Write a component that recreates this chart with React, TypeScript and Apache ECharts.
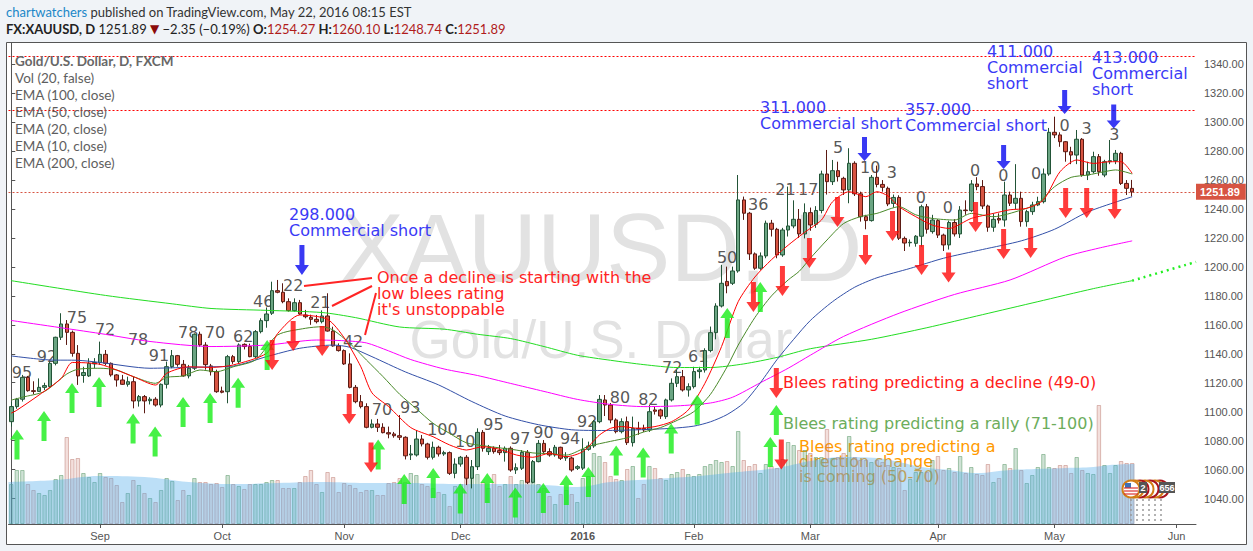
import React, { useEffect, useRef } from 'react';
import * as echarts from 'echarts';

// ---------- categories (trading days, FXCM daily bars) ----------
const FIRST_DAY = [2015, 7, 10]; // 2015-08-10 (month is 0-based)
const HOLIDAYS = ['2015-12-25', '2016-01-01'];
const N_CATEGORIES = 214;
const MONTHS = ['Jan', 'Feb', 'Mar', 'Apr', 'May', 'Jun', 'Jul', 'Aug', 'Sep', 'Oct', 'Nov', 'Dec'];

function buildTradingDays(): string[] {
  const out: string[] = [];
  const d = new Date(Date.UTC(FIRST_DAY[0], FIRST_DAY[1], FIRST_DAY[2]));
  while (out.length < N_CATEGORIES) {
    const wd = d.getUTCDay();
    const s = d.toISOString().slice(0, 10);
    if (wd !== 0 && wd !== 6 && HOLIDAYS.indexOf(s) < 0) out.push(s);
    d.setUTCDate(d.getUTCDate() + 1);
  }
  return out;
}

// ---------- price data: [open, close, low, high] ----------
const ohlc: number[][] = [
  [1093.1,1103.5,1089.7,1106.9],[1103.5,1108.6,1102,1109.5],[1108.6,1123.7,1107,1125.4],[1123.7,1114.5,1113.8,1124.7],[1114.5,1114,1112,1121],
  [1114,1116.8,1113.8,1123],[1116.8,1118,1115,1120],[1117.3,1133.4,1116.8,1134.6],[1133.4,1151.4,1132,1151.8],[1151.4,1160.6,1149.5,1168],
  [1160.6,1154.8,1146.1,1163.3],[1154.8,1140.3,1138,1156],[1140.3,1124.7,1118.5,1146],[1125,1127,1120,1131],[1124.7,1133.4,1124,1136.9],
  [1133,1134,1130,1137],[1133.9,1139.6,1132.3,1148.4],[1139.6,1133.4,1132,1142.6],[1133.4,1125.4,1124.2,1134],[1125.4,1121.9,1117.3,1126],
  [1121.9,1118.9,1118.5,1125.4],[1118.9,1120.7,1117.3,1124.2],[1120.7,1107.4,1102.3,1124.2],[1107.4,1110.4,1103.5,1111.5],[1110.4,1107.4,1098.9,1111.5],
  [1107.6,1108.6,1105,1110],[1108.6,1104.6,1103.5,1110],[1104.6,1118.9,1103,1119.5],[1118.9,1131.1,1116,1134.6],[1131.1,1138.7,1130,1142.6],
  [1138.7,1132.7,1131.1,1139.2],[1132.7,1124.7,1124.2,1135.7],[1124.7,1130,1123,1132.3],[1130,1153.5,1128.8,1154.1],[1153.5,1146.1,1144.9,1155.3],
  [1146,1132.5,1129,1148],[1131.6,1127.6,1125,1133],[1127.6,1113.8,1113,1129],[1114.3,1113.4,1112.7,1117.3],[1113.8,1138,1105.8,1139.2],
  [1138,1134.6,1133,1139.2],[1134.6,1146.1,1133.4,1147.2],[1146.5,1145,1143,1147.2],[1145,1138,1137.6,1147],[1138,1155.3,1137,1156.4],
  [1155.3,1162.9,1154.1,1164.5],[1162.9,1167.5,1158,1172],[1168,1183.6,1166.8,1189.8],[1183.6,1182.5,1181.8,1191],[1182.5,1176,1174.9,1188.7],
  [1176,1169.8,1169.1,1178.3],[1169.8,1175.3,1169.1,1178.3],[1175.3,1167.5,1166.8,1177.2],[1166.8,1165.6,1164.5,1170.3],[1165.2,1163.8,1160,1167],
  [1163.8,1162.2,1161,1166.8],[1162.2,1166.1,1161,1170],[1166.1,1155.7,1155.3,1181.8],[1155.7,1145.4,1144.9,1158.7],[1145.4,1142.2,1141.5,1147.2],
  [1142.2,1133,1132.3,1143],[1133,1116.8,1116.1,1140.3],[1116.8,1106.9,1105.8,1118.4],[1106.9,1103.5,1102.3,1111.5],[1103.5,1089.2,1088.5,1105.8],
  [1089.2,1091.5,1088.5,1094.7],[1091.5,1089.2,1086,1095],[1089.2,1085.5,1085,1092],[1085.5,1084.6,1081.6,1089.7],[1084.6,1083.4,1082,1086],
  [1083.4,1082.3,1080.4,1097.7],[1082.3,1069.5,1067,1083],[1070.1,1070.8,1066.6,1077],[1070.1,1081.1,1069,1087.3],[1081.1,1077.7,1076,1083.9],
  [1077.7,1068.5,1067,1078.5],[1068.5,1075.4,1067,1079.3],[1075.4,1070.8,1069,1076.5],[1070.8,1071.7,1069.5,1073],[1071.7,1057.4,1056.3,1072.5],
  [1057.4,1063.8,1054,1067.8],[1063.8,1068.5,1062,1069.4],[1068.5,1054,1049.3,1070],[1054,1062,1047,1066.6],[1062,1085.7,1059.7,1088.5],
  [1085.7,1074.7,1072.4,1087.3],[1072.4,1074.7,1070.1,1077],[1074.7,1072.4,1071,1076],[1073.1,1071.7,1070,1077],[1071.7,1074.7,1065.5,1076],
  [1074.7,1059.7,1058.5,1076],[1059.7,1061.3,1057,1064.3],[1060.9,1071.9,1059.7,1073.5],[1071.9,1051.2,1050,1073.5],[1051.2,1065.5,1050.5,1066.6],
  [1065.5,1078.1,1065,1080.4],[1078.1,1072.4,1071.2,1080.4],[1072.4,1070.1,1068.9,1074.7],[1070.1,1075.4,1068.9,1077],[1075.4,1067.8,1066.6,1075.8],
  [1068,1069,1066,1072],[1068,1059.7,1058.5,1068.9],[1060.9,1062,1059.7,1063],[1061,1074,1059.7,1081.6],[1074,1076.3,1073,1079.3],
  [1076.3,1093.1,1075,1094.2],[1093.1,1108.5,1092,1111.5],[1108.1,1104.6,1097,1111.5],[1104.6,1094.3,1092,1106],[1094.3,1086.2,1085,1095.4],
  [1086.2,1093.1,1085,1095.4],[1093.1,1078.6,1077,1096.6],[1078.6,1088.5,1075.9,1096.6],[1088.5,1088,1084,1093],[1088.5,1087.4,1086,1091],
  [1087.4,1100,1086,1104.6],[1101.2,1100.3,1098,1103.5],[1101.2,1097,1095,1102],[1096.6,1108.1,1095,1109],[1108.1,1119.6,1107,1123],
  [1119.6,1124.2,1117,1128.8],[1124.2,1115,1113.9,1128.8],[1115,1117.3,1110.4,1119.6],[1117.3,1127.7,1116,1131],[1127.7,1128.8,1123,1131],
  [1128.8,1142.2,1127,1143.8],[1142.2,1154.6,1141,1158.8],[1154.6,1173,1150,1174.9],[1173,1188.7,1172,1201.4],[1190,1187,1181.8,1200.2],
  [1188.7,1197.2,1187.5,1200.2],[1197.2,1246.3,1196,1263.5],[1246.3,1237.1,1232.5,1248.6],[1237.1,1209,1204.8,1238],[1209,1199.1,1198,1210],
  [1199.1,1207.6,1198,1210],[1207.6,1230.2,1206,1232],[1230.2,1226,1221,1232.5],[1226,1208.3,1206,1227],[1208.3,1225.5,1207,1227],
  [1225.5,1228.3,1221,1255.5],[1228.3,1232.9,1226.7,1246],[1232.9,1222.8,1220,1240],[1222.8,1237.5,1219.7,1243.9],[1237.5,1229,1225,1241],
  [1229.5,1239,1227,1242],[1239,1264.2,1237,1266.5],[1264.2,1258.9,1250,1280.8],[1258.9,1266.5,1256.6,1273.9],[1266.5,1262.4,1259,1272.7],
  [1261.2,1253.2,1249.7,1262.3],[1253.2,1271.6,1244,1282],[1271.6,1250.5,1249,1273],[1250.5,1234.7,1231.3,1252],[1234.7,1232,1226,1236],
  [1232,1261.9,1231.3,1263.5],[1261.9,1257,1255,1270],[1257,1255,1252,1260],[1254.3,1243.5,1242,1255.5],[1243.9,1248,1241,1250],
  [1248,1219.8,1218.6,1249.5],[1219.7,1216.5,1211,1221],[1216.7,1217,1214,1219],[1216.3,1221.2,1214,1222],[1221.2,1241.6,1214,1243],
  [1241.6,1226,1223,1243.5],[1224.4,1232.4,1223,1236],[1232,1222,1220,1233],[1222,1215.2,1211,1223],[1215.2,1230.7,1212,1232],
  [1230.7,1222.8,1221,1233],[1222.8,1239.3,1220,1242],[1239.3,1238.9,1236,1246],[1238.9,1257.3,1238,1260],[1257.3,1255.5,1253,1262],
  [1255.5,1242.1,1240,1260],[1242.1,1227.4,1224.3,1243],[1227.4,1232.9,1224.3,1237],[1233.5,1232.4,1230,1237],[1232.4,1249.7,1227.8,1258.9],
  [1249.7,1244,1242.1,1252],[1244,1247.4,1240,1271],[1247.4,1231.3,1227.8,1252],[1231.3,1238.2,1227.8,1239.5],[1238.2,1242.8,1236,1245],
  [1242.8,1245.1,1242,1248.5],[1245.1,1264.2,1243.9,1268],[1264.2,1293,1263,1296],[1293,1291.2,1289,1303.8],[1291.2,1286.5,1283,1293],
  [1286.5,1279.6,1272.7,1287],[1279.6,1277.3,1271,1283],[1277.3,1288.2,1271,1294.6],[1288.2,1263.5,1262.3,1289],[1263.5,1265.8,1260,1272.7],
  [1265.8,1276.2,1264.6,1279.6],[1276.2,1265.8,1263,1278],[1263.5,1272.7,1262,1274],[1272.7,1273.4,1271,1287.7],[1273.4,1278.5,1271,1280.8],
  [1278.5,1257.7,1256.6,1279.5],[1257.7,1254.3,1249.7,1260],[1254.27,1251.89,1248.74,1260.1],
];

// volume (thousand ticks), one per bar
const volume: number[] = [
  40,54,54,40,34,31,29,34,45,49, 87,65,66,51,47,42,51,47,46,39, 22,31,44,39,31,26,22,34,46,43,
  24,34,29,46,42,42,40,41,37,49, 40,38,35,40,40,40,42,44,44,36, 36,36,42,48,54,40,32,52,47,32,
  41,39,36,32,34,34,29,29,41,42, 46,42,51,49,40,38,36,32,30,18, 38,40,45,46,50,42,36,50,38,40,
  48,40,44,52,46,40,36,28,20,30, 34,30,22,46,48,71,68,62,48,45, 44,55,58,26,40,58,56,46,44,50,
  52,55,50,48,50,58,60,64,62,63, 58,93,64,58,60,51,60,58,56,65, 82,79,74,74,71,67,67,95,66,67,
  71,88,67,64,64,62,64,62,59,57, 56,34,45,52,52,52,64,68,54,56, 52,68,51,57,50,49,60,42,46,60,
  56,76,54,41,49,57,70,57,56,59, 59,51,67,54,51,50,119,59,51,59, 63,61,61,
];

// Vol (20) average, read at bar positions [barIndex, value]
const volumeMA: number[][] = [
  [-0.5,42],[8,44],[16,48],[24,47],[32,42],[40,40],[48,41],[56,42],[64,41],[72,41],[80,40],[88,40],[96,39],[102,37],
  [108,42],[116,45],[124,48],[131,52],[138,56],[144,63],[150,67],[156,66],[160,62],[164,57],[169,54],[174,51],
  [180,54],[185,55],[190,56],[195,57],[198,59],[202.4,60],
];

// EMAs [barIndex, price]
const ema10: number[][] = [
  [0,1099],[1,1101],[5,1111.5],[9,1123],[11,1134],[16,1132.7],[22,1124.2],[26,1118.4],[28,1126.5],[32,1131],[36,1130.6],[40,1132.3],
  [46,1140.3],[48,1154],[52,1166.8],[57,1163.8],[60,1151],[63,1131],[65,1113],[68,1103.5],[72,1089],[76,1082.7],[79,1077],
  [82,1073.5],[85,1075.8],[88,1074],[91,1070.1],[94,1068.5],[97,1071.2],[100,1068.9],[103,1072.4],[106,1083.9],[108,1088.5],
  [110,1089.7],[113,1088.5],[116,1089.7],[119,1093.1],[122,1101.2],[125,1119.6],[128,1145],[131,1176],[134,1193],[137,1205],
  [140,1215],[143,1224],[146,1232.4],[148,1245],[151,1252],[154,1248.5],[156,1252],[158,1249],[160,1241.6],[163,1234.7],
  [166,1228.9],[169,1226.6],[173,1233.5],[177,1237],[180,1239.5],[183,1240.5],[186,1246.2],[189,1265.8],[192,1273.9],
  [195,1271.5],[198,1272.7],[200,1272.7],[202,1264.6],
];
const ema20: number[][] = [
  [0,1108],[2,1110],[6,1114],[10,1126],[12,1129.3],[16,1130],[19,1128.8],[22,1124.2],[26,1119.6],[28,1123.7],[31,1124.7],
  [34,1128.8],[37,1127.6],[40,1131],[44,1135.7],[48,1153],[53,1157.6],[56,1158.7],[58,1156.4],[61,1147.2],[64,1135.7],
  [67,1124.2],[70,1112],[73,1102],[76,1092],[79,1085],[82,1078.5],[85,1076.5],[88,1075],[91,1073.5],[94,1071.5],[97,1071],
  [100,1070],[104,1076],[108,1079.5],[111,1082],[114,1086],[117,1089],[120,1094],[123,1100],[126,1112],[129,1131],[131,1146],
  [134,1165],[137,1180],[140,1191],[142,1197],[144,1206],[147,1218.6],[150,1230],[153,1234.7],[156,1237],[160,1241.6],
  [163,1236],[166,1233.5],[170,1232.4],[173,1237],[177,1234.7],[182,1239.3],[185,1243.9],[188,1255.4],[191,1261.9],
  [194,1263.5],[197,1265.8],[199,1267],[202,1264.2],
];
const ema50: number[][] = [
  [0,1138.5],[7,1135.7],[12,1135.5],[16,1134],[25,1130],[31,1130.5],[36,1131],[40,1131.5],[46,1138],[52,1143.8],[58,1146],
  [61,1144.5],[65,1138],[71,1127.5],[77,1118.5],[83,1107],[89,1097],[95,1091],[101,1087.5],[107,1087],[113,1087.5],
  [119,1088.5],[123,1090],[126,1093],[129,1098],[132,1106],[135,1120],[138,1136],[141,1150],[144,1163],[148,1176],
  [152,1186],[156,1192.5],[162,1199],[168,1206],[175,1212],[182,1218],[188,1226],[194,1238],[202,1248.5],
];
const ema100: number[][] = [
  [0,1163],[16,1154],[25,1148.5],[36,1145],[46,1146],[55,1149.5],[60,1149],[64,1147.5],[68,1142],[72,1136],[78,1129.5],
  [84,1125],[90,1119.5],[96,1114],[102,1108.5],[108,1105],[114,1103.5],[120,1104],[126,1106],[130,1110],[135,1120],
  [140,1130],[144,1139],[150,1152],[160,1168],[170,1181],[180,1191],[190,1207],[196,1213],[202,1218],
];
const ema200: number[][] = [
  [0,1190.5],[17,1180.3],[29,1174.5],[36,1171.3],[46,1170],[56,1168.5],[62,1165],[70,1158.5],[78,1157],[84,1153.5],
  [90,1150.5],[96,1145],[102,1139],[108,1135.5],[114,1132.5],[120,1130.5],[126,1130.5],[132,1133],[138,1137.5],
  [144,1143.5],[155,1150],[165,1158],[175,1167],[185,1176],[195,1185],[202,1190.5],
];
const ema200Projection: number[][] = [[202,1190.5],[213.5,1203.5]];

// price-axis ticks
const priceTicks: number[] = [1040,1060,1080,1100,1120,1140,1160,1180,1200,1220,1240,1260,1280,1300,1320,1340];
const lastPrice = 1251.89;
const drawnLevels: number[] = [1345.4, 1308.4];

// annotation arrows [barIndex, price]
const upArrows: number[][] = [
  [1.03,1077.3],[5.9,1090.1],[10.95,1109.5],[15.82,1113.6],[21.95,1088.4],[25.92,1079.4],[30.96,1099.8],[35.83,1102.6],
  [40.88,1113],[46.11,1139.2],[66.12,1070.4],[70.81,1046.6],[76.04,1050.8],[80.91,1040],[85.78,1047.3],[90.83,1037.3],
  [95.88,1040.4],[100.03,1045.9],[104,1051.4],[109.01,1066.3],[113.88,1064.9],[118.93,1081.5],[123.62,1101.4],
  [129.03,1161.3],[134.98,1179.2],[137.87,1094.2],[136.79,1072.1],
];
const downArrows: number[][] = [
  [47.01,1139.2],[50.8,1152.3],[56.03,1148.8],[60.9,1101.9],[64.83,1068.4],[133.74,1179.2],[138.97,1190.3],[143.84,1209.6],
  [148.89,1237.9],[153.94,1211.7],[158.81,1228.3],[164.04,1204.8],[168.91,1199.6],[173.78,1234.5],[178.83,1215.9],
  [183.7,1216.6],[190.01,1244.2],[193.8,1244.2],[198.85,1243.5],[137.87,1119.8],[138.77,1070.4],
];
const blueArrows: number[][] = [[52.38,1204.8],[153.76,1281.5],[178.83,1276],[189.83,1314],[198.67,1304]];

// Blees ratings [barIndex, price, rating]
const ratings: (number | string)[][] = [
  [1.93,1127.4,'95'],[6.44,1137.8,'92'],[11.85,1165.4,'75'],[16.9,1157.1,'72'],[22.85,1150.2,'78'],[26.6,1138.5,'91'],
  [31.9,1155,'78'],[36.7,1155,'70'],[41.8,1151.6,'62'],[45.4,1175.8,'46'],[50.8,1187.5,'22'],[55.7,1175.1,'21'],
  [61.6,1148.2,'42'],[66.8,1101.2,'70'],[71.9,1102.6,'93'],[77.7,1087.4,'100'],[81.8,1079.1,'10'],[86.9,1090.8,'95'],
  [91.7,1081.8,'97'],[95.9,1085.3,'90'],[100.7,1081.8,'94'],[103.8,1092.9,'92'],[109.7,1110.1,'80'],[114.8,1108.1,'82'],
  [119.1,1130.2,'72'],[123.8,1137.8,'61'],[129,1206.2,'50'],[134.6,1242.8,'36'],[139.5,1253.2,'21'],[143.6,1253.2,'17'],
  [149,1282.2,'5'],[154.8,1268.4,'10'],[158.7,1265,'3'],[163.9,1247.7,'0'],[168.8,1241.4,'0'],[173.7,1266.3,'0'],
  [178.8,1263.5,'0'],[184.7,1264.2,'0'],[189.8,1297.4,'0'],[193.8,1295.3,'3'],[198.8,1291.2,'3'],
];

const legendLines = ['Vol (20, false)', 'EMA (100, close)', 'EMA (50, close)', 'EMA (20, close)', 'EMA (10, close)', 'EMA (200, close)'];

const UP_PATH = 'path://M7,0L14,10L9.5,10L9.5,30L4.5,30L4.5,10L0,10Z';
const DOWN_PATH = 'path://M4.5,0L9.5,0L9.5,20L14,20L7,30L0,20L4.5,20Z';

const ANN = 'DejaVu Sans';
const UI = 'Liberation Sans';

function txt(text: string, x: number, y: number, fill: string, size: number, family: string, opts: any = {}) {
  return {
    type: 'text', x, y, z: opts.z !== undefined ? opts.z : 20, silent: true,
    style: {
      text, fill, fontSize: size, fontFamily: family, fontWeight: opts.bold ? 'bold' : 'normal',
      align: opts.align || 'left', textAlign: opts.align || 'left',
      verticalAlign: 'middle', textVerticalAlign: 'middle',
    },
  };
}

function buildOption() {
  const dates = buildTradingDays();
  const monthStart: Record<number, boolean> = {};
  dates.forEach((s, i) => {
    if (i > 0 && s.slice(5, 7) !== dates[i - 1].slice(5, 7)) monthStart[i] = true;
  });
  const isMonthStart = (idx: number) => !!monthStart[idx];

  const volData = volume.map((v, i) => {
    const up = ohlc[i][1] >= ohlc[i][0];
    return {
      value: v,
      itemStyle: up
        ? { color: 'rgba(95,160,115,0.3)', borderColor: 'rgba(85,150,100,0.5)', borderWidth: 1 }
        : { color: 'rgba(205,120,110,0.24)', borderColor: 'rgba(190,125,115,0.5)', borderWidth: 1 },
    };
  });

  const emaLine = (name: string, data: number[][], color: string, extra: any = {}) => ({
    name, type: 'line', xAxisIndex: 1, yAxisIndex: 0, data, symbol: 'none', smooth: 0.25,
    lineStyle: { color, width: 1, ...extra }, z: 6, silent: true,
  });

  const graphics: any[] = [];
  // chart panel
  graphics.push({
    type: 'rect', z: -1, silent: true,
    shape: { x: 6.5, y: 42.5, width: 1240, height: 502 },
    style: { fill: '#ffffff', stroke: '#555555', lineWidth: 1 },
  });
  // watermark
  graphics.push(txt('XAUUSD, D', 601, 247, '#e2e2e2', 96, UI, { align: 'center', z: 1 }));
  graphics.push(txt('Gold/U.S. Dollar', 601, 339, '#e2e2e2', 53, UI, { align: 'center', z: 1 }));
  // header
  graphics.push({
    type: 'text', x: 6, y: 12, z: 20, silent: true,
    style: {
      text: '{a|chartwatchers}{b| published on TradingView.com, May 22, 2016 08:15 EST}',
      verticalAlign: 'middle', textVerticalAlign: 'middle',
      rich: {
        a: { fill: '#1b87c8', fontSize: 13, fontFamily: 'Lato' },
        b: { fill: '#333333', fontSize: 13, fontFamily: 'Lato' },
      },
    },
  });
  graphics.push({
    type: 'text', x: 6, y: 29, z: 20, silent: true,
    style: {
      text: '{k|FX:XAUUSD, D}{n| 1251.89 }{t|▼}{n| \u22122.35 (\u22120.19%) }{k|O:}{r|1254.27}{n| }{k|H:}{r|1260.10}{n| }{k|L:}{r|1248.74}{n| }{k|C:}{r|1251.89}',
      verticalAlign: 'middle', textVerticalAlign: 'middle',
      rich: {
        k: { fill: '#222222', fontSize: 13, fontFamily: 'Lato', fontWeight: 'bold' },
        n: { fill: '#222222', fontSize: 13, fontFamily: 'Lato' },
        t: { fill: '#8b0a0a', fontSize: 12, fontFamily: 'DejaVu Sans' },
        r: { fill: '#b01c1c', fontSize: 13, fontFamily: 'Lato' },
      },
    },
  });
  // legend
  graphics.push(txt('Gold/U.S. Dollar, D, FXCM', 15, 61, '#676767', 13.5, 'Lato', { bold: true }));
  legendLines.forEach((s, k) => graphics.push(txt(s, 15, 78 + k * 17, '#5e5e5e', 13.5, 'Lato')));

  // commercial-short notes
  const BLUE = '#3a3af6';
  [
    ['298.000', 289, 214], ['Commercial short', 289, 230],
    ['311.000', 760, 107], ['Commercial short', 760, 123],
    ['357.000', 905, 109], ['Commercial short', 905, 125],
    ['411.000', 987, 51.5], ['Commercial', 987, 67.5], ['short', 987, 83.5],
    ['413.000', 1092, 57], ['Commercial', 1092, 73], ['short', 1092, 89],
  ].forEach((a: any) => graphics.push(txt(a[0], a[1], a[2], BLUE, 16, ANN)));

  // red note + connectors
  const RED = '#ff2424';
  [['Once a decline is starting with the', 377, 277], ['low blees rating', 377, 293], ["it's unstoppable", 377, 309]]
    .forEach((a: any) => graphics.push(txt(a[0], a[1], a[2], RED, 16, ANN)));
  [[304, 286, 372, 278], [332, 306, 372, 286], [365, 335, 376, 293]].forEach((l) =>
    graphics.push({ type: 'line', z: 20, silent: true, shape: { x1: l[0], y1: l[1], x2: l[2], y2: l[3] }, style: { stroke: RED, lineWidth: 2 } }));

  // key
  graphics.push(txt('Blees rating predicting a decline (49-0)', 783, 382, '#ff2020', 16, ANN));
  graphics.push(txt('Blees rating predicting a rally (71-100)', 783, 423, '#6cad5c', 16, ANN));
  graphics.push(txt('Blees rating predicting a', 799, 446, '#ff9a00', 16, ANN, { z: 1 }));
  graphics.push(txt('direction change', 799, 461, '#ff9a00', 16, ANN, { z: 1 }));
  graphics.push(txt('is coming (50-70)', 799, 476, '#ff9a00', 16, ANN, { z: 1 }));

  // economic event badges
  for (let k = 0; k < 6; k++) {
    graphics.push({ type: 'line', z: 20, silent: true, shape: { x1: 1131 + k * 6, y1: 499, x2: 1131 + k * 6, y2: 523 },
      style: { stroke: '#9a9a9a', lineWidth: 1.5, lineDash: [2, 3] } });
  }
  [1160, 1155, 1150, 1145, 1140, 1135].forEach((cx, k) =>
    graphics.push({ type: 'circle', z: 21, silent: true, shape: { cx, cy: 489, r: 8.5 },
      style: { fill: '#ffffff', stroke: k % 2 ? '#d27d14' : '#a8141c', lineWidth: 2 } }));
  graphics.push({ type: 'circle', z: 22, silent: true, shape: { cx: 1131, cy: 489, r: 8.5 }, style: { fill: '#ffffff', stroke: '#d27d14', lineWidth: 2 } });
  graphics.push({ type: 'rect', z: 23, silent: true, shape: { x: 1125, y: 483, width: 6, height: 5 }, style: { fill: '#3d6fb5' } });
  [488, 491, 494].forEach((yy) => graphics.push({ type: 'line', z: 23, silent: true, shape: { x1: 1124, y1: yy, x2: 1138, y2: yy }, style: { stroke: '#d33', lineWidth: 1.2 } }));
  graphics.push({ type: 'rect', z: 24, silent: true, shape: { x: 1139, y: 482, width: 8, height: 11 }, style: { fill: '#555555' } });
  graphics.push(txt('2', 1143, 487.5, '#ffffff', 9, UI, { align: 'center', bold: true, z: 25 }));
  graphics.push({ type: 'rect', z: 24, silent: true, shape: { x: 1159, y: 482, width: 16, height: 11 }, style: { fill: '#555555' } });
  graphics.push(txt('656', 1167, 487.5, '#ffffff', 9, UI, { align: 'center', bold: true, z: 25 }));

  return {
    animation: false,
    backgroundColor: '#f0f3f7',
    textStyle: { fontFamily: UI },
    grid: { left: 8.5, right: 57, top: 43, bottom: 27, containLabel: false, outerBoundsMode: 'none' },
    xAxis: [
      {
        type: 'category', data: dates, boundaryGap: true,
        axisLine: { show: true, lineStyle: { color: '#555555' } },
        axisTick: { show: true, interval: isMonthStart, alignWithLabel: true, length: 4, lineStyle: { color: '#555555' } },
        axisLabel: {
          interval: isMonthStart, color: '#555555', fontSize: 11, margin: 6, fontFamily: UI,
          formatter: (v: string) => {
            const m = +v.slice(5, 7);
            return m === 1 ? '{b|' + v.slice(0, 4) + '}' : MONTHS[m - 1];
          },
          rich: { b: { fontWeight: 'bold', fontSize: 11, color: '#555555', fontFamily: UI } },
        },
        splitLine: { show: false },
      },
      { type: 'value', min: -0.5, max: N_CATEGORIES - 0.5, show: false },
    ],
    yAxis: [
      {
        type: 'value', position: 'right', min: 1022.4, max: 1354.7,
        splitLine: { show: false },
        axisLine: { show: true, lineStyle: { color: '#555555' } },
        axisTick: { show: true, length: 4, customValues: priceTicks, lineStyle: { color: '#555555' } },
        axisLabel: { customValues: priceTicks, formatter: (v: number) => v.toFixed(2), color: '#555555', fontSize: 11, margin: 8, fontFamily: UI },
      },
      { type: 'value', min: 0, max: 481, show: false },
    ],
    series: [
      {
        name: 'Volume', type: 'bar', xAxisIndex: 0, yAxisIndex: 1, data: volData, barWidth: '80%', z: 2, silent: true,
      },
      {
        name: 'Vol MA', type: 'line', xAxisIndex: 1, yAxisIndex: 1, data: volumeMA, symbol: 'none', smooth: 0.4, z: 3, silent: true,
        lineStyle: { width: 0 }, areaStyle: { color: 'rgba(80,172,235,0.55)' },
      },
      {
        name: 'Ratings', type: 'scatter', xAxisIndex: 1, yAxisIndex: 0, z: 4, silent: true, symbolSize: 1,
        itemStyle: { color: 'rgba(0,0,0,0)' },
        data: ratings.map((r) => ({ value: [r[0], r[1]], name: r[2] })),
        label: { show: true, position: 'inside', formatter: '{b}', fontSize: 16, color: '#2a2a2a', fontFamily: ANN },
      },
      {
        name: 'XAUUSD', type: 'candlestick', xAxisIndex: 0, yAxisIndex: 0, data: ohlc, barWidth: 4, z: 5, silent: true,
        itemStyle: { color: '#6ba583', color0: '#d75442', borderColor: '#225437', borderColor0: '#5b1a13', borderWidth: 1 },
        markLine: {
          silent: true, symbol: ['none', 'none'], animation: false,
          data: [
            {
              yAxis: lastPrice,
              lineStyle: { color: '#d75442', type: [2, 2], width: 1 },
              label: {
                show: true, position: 'end', distance: 0, formatter: lastPrice.toFixed(2), color: '#ffffff',
                backgroundColor: '#d75442', padding: [3, 6, 2, 4], fontSize: 11, fontWeight: 'bold', fontFamily: UI,
              },
            },
            ...drawnLevels.map((lv) => ({ yAxis: lv, lineStyle: { color: '#ff0000', type: [2, 2], width: 1 }, label: { show: false } })),
          ],
        },
      },
      emaLine('EMA 200', ema200, '#22dd22'),
      emaLine('EMA 200 proj', ema200Projection, '#22ee22', { type: [2, 4], width: 2.5 }),
      emaLine('EMA 100', ema100, '#ff00ff'),
      emaLine('EMA 50', ema50, '#3350a8'),
      emaLine('EMA 20', ema20, '#4a8a2a'),
      emaLine('EMA 10', ema10, '#ff0000'),
      {
        name: 'Rally', type: 'scatter', xAxisIndex: 1, yAxisIndex: 0, z: 10, silent: true,
        symbol: UP_PATH, symbolSize: [14, 30], itemStyle: { color: '#18ee18' }, data: upArrows,
      },
      {
        name: 'Decline', type: 'scatter', xAxisIndex: 1, yAxisIndex: 0, z: 10, silent: true,
        symbol: DOWN_PATH, symbolSize: [14, 30], itemStyle: { color: '#ff0a0a' }, data: downArrows,
      },
      {
        name: 'Commercial', type: 'scatter', xAxisIndex: 1, yAxisIndex: 0, z: 10, silent: true,
        symbol: DOWN_PATH, itemStyle: { color: '#0808f0' },
        data: blueArrows.map((b, k) => ({ value: b, symbolSize: k === 0 ? [14, 30] : [14, 24] })),
      },
    ],
    graphic: { elements: graphics },
  };
}

export default function App() {
  const ref = useRef<HTMLDivElement>(null);
  useEffect(() => {
    document.body.style.margin = '0';
    if (!ref.current) return;
    const chart = echarts.init(ref.current, undefined, { renderer: 'svg' });
    chart.setOption(buildOption() as any);
    return () => chart.dispose();
  }, []);
  return <div ref={ref} style={{ width: 1253, height: 551 }} />;
}
